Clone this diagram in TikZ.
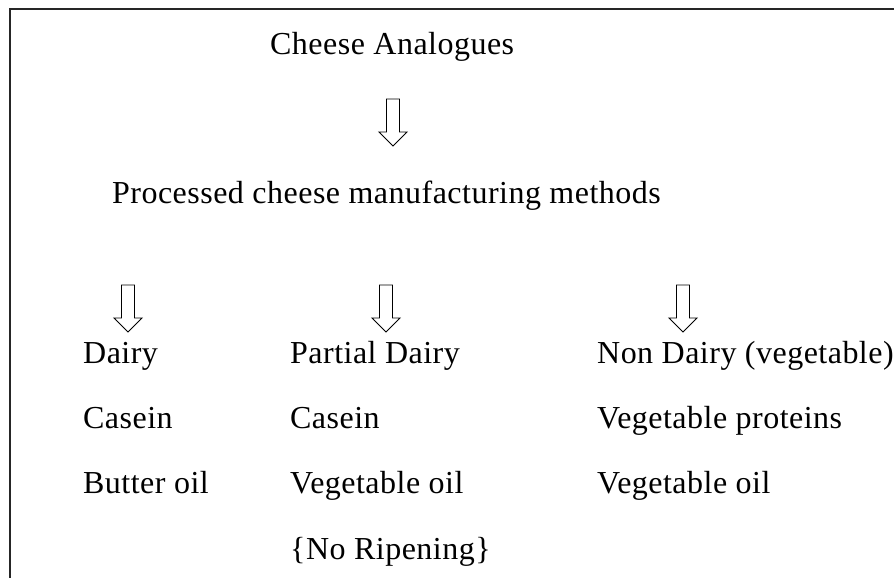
\documentclass[tikz,border=0pt]{standalone}
\usepackage{fontspec}
\setmainfont[LetterSpace=1.5]{Liberation Serif}
\begin{document}
\begin{tikzpicture}[x=1pt,y=-1pt,
  label/.style={anchor=base west,inner sep=0pt,font=\fontsize{32}{36}\selectfont},
  frameline/.style={line width=2pt,draw=black!85},
  blockarrow/.style={draw=black,fill=white,line width=0.9pt,line join=miter}]
\useasboundingbox (0,0) rectangle (894,578);
% open frame: top and left edges only
\draw[frameline] (894,9) -- (10,9) -- (10,578);

\newcommand\downblock[1]{%
  \draw[blockarrow,shift={(#1)}] (-6.5,0) -- (6.5,0) -- (6.5,33) -- (14,33)
    -- (0,47) -- (-14,33) -- (-6.5,33) -- cycle;}

\node[label] (top) at (270,55) {Cheese Analogues};
\coordinate (a0) at (393,99);
\downblock{a0}
\node[label] (proc) at (112,203) {Processed cheese manufacturing methods};

\coordinate (a1) at (128,285);
\coordinate (a2) at (386,285);
\coordinate (a3) at (683,285);
\downblock{a1}
\downblock{a2}
\downblock{a3}

\node[label] (d1) at (83,363) {Dairy};
\node[label] (d2) at (83,428) {Casein};
\node[label] (d3) at (83,493) {Butter oil};

\node[label] (p1) at (290,363) {Partial Dairy};
\node[label] (p2) at (290,428) {Casein};
\node[label] (p3) at (290,493) {Vegetable oil};
\node[label] (p4) at (290,559) {\{No Ripening\}};

\node[label] (n1) at (597,363) {Non Dairy (vegetable)};
\node[label] (n2) at (597,428) {Vegetable proteins};
\node[label] (n3) at (597,493) {Vegetable oil};
\end{tikzpicture}
\end{document}
